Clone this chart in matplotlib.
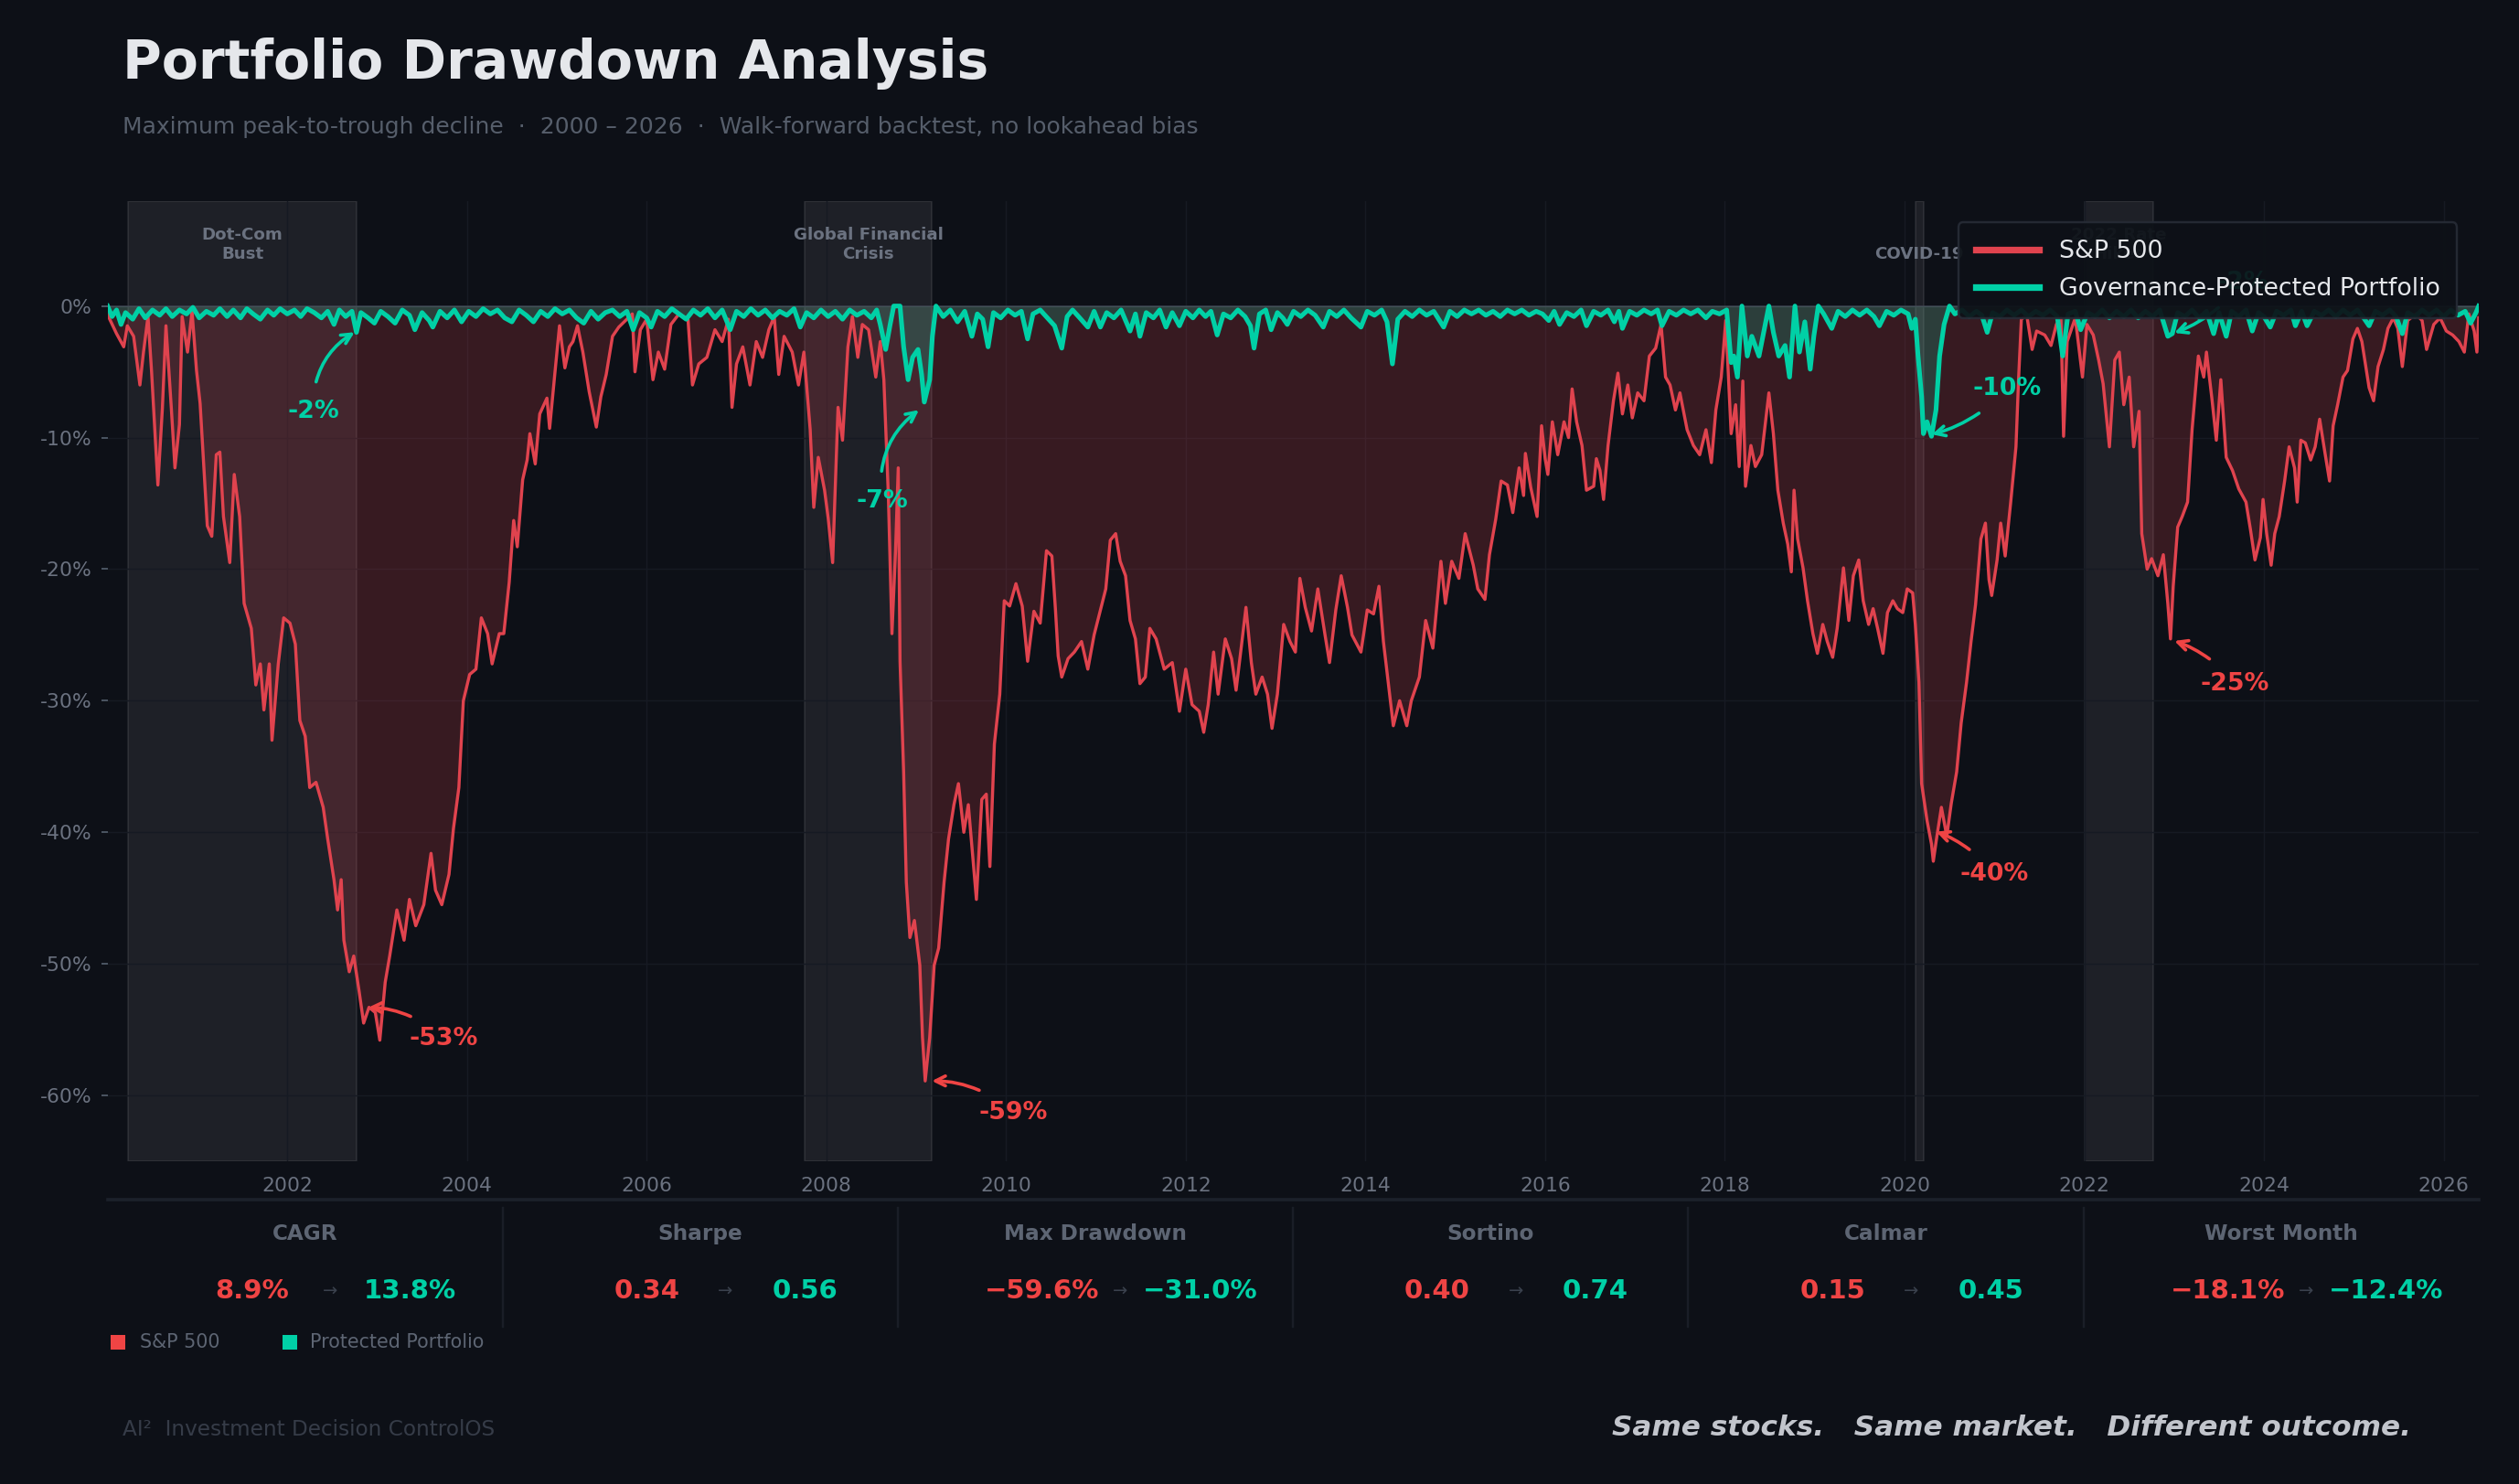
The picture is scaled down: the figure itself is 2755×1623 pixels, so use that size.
import matplotlib
matplotlib.use('Agg')
import matplotlib.pyplot as plt
from matplotlib.patches import Rectangle
from matplotlib.lines import Line2D

# ---- data ----
sp_years = [2000.00, 2000.01, 2000.10, 2000.18, 2000.22, 2000.29, 2000.36, 2000.40, 2000.45, 2000.49,
            2000.56, 2000.61, 2000.65, 2000.71, 2000.75, 2000.80, 2000.83, 2000.89, 2000.94, 2000.99,
            2001.03, 2001.07, 2001.11, 2001.16, 2001.21, 2001.25, 2001.29, 2001.36, 2001.41, 2001.47,
            2001.52, 2001.60, 2001.65, 2001.70, 2001.74, 2001.80, 2001.83, 2001.90, 2001.96, 2002.03,
            2002.09, 2002.14, 2002.20, 2002.25, 2002.32, 2002.40, 2002.45, 2002.52, 2002.56, 2002.60,
            2002.63, 2002.69, 2002.74, 2002.80, 2002.85, 2002.91, 2002.98, 2003.03, 2003.09, 2003.14,
            2003.22, 2003.30, 2003.36, 2003.43, 2003.52, 2003.60, 2003.65, 2003.72, 2003.80, 2003.85,
            2003.91, 2003.96, 2004.03, 2004.10, 2004.16, 2004.23, 2004.28, 2004.36, 2004.41, 2004.47,
            2004.52, 2004.56, 2004.62, 2004.67, 2004.70, 2004.76, 2004.81, 2004.89, 2004.92, 2004.98,
            2005.03, 2005.09, 2005.14, 2005.18, 2005.23, 2005.29, 2005.36, 2005.44, 2005.49, 2005.55,
            2005.62, 2005.69, 2005.78, 2005.84, 2005.87, 2005.93, 2006.00, 2006.07, 2006.13, 2006.20,
            2006.27, 2006.36, 2006.46, 2006.51, 2006.58, 2006.67, 2006.76, 2006.84, 2006.91, 2006.95,
            2007.00, 2007.07, 2007.15, 2007.22, 2007.29, 2007.36, 2007.42, 2007.47, 2007.53, 2007.62,
            2007.69, 2007.75, 2007.82, 2007.86, 2007.91, 2007.98, 2008.02, 2008.07, 2008.13, 2008.18,
            2008.24, 2008.29, 2008.35, 2008.40, 2008.47, 2008.55, 2008.60, 2008.64, 2008.69, 2008.73,
            2008.77, 2008.80, 2008.82, 2008.86, 2008.89, 2008.93, 2008.98, 2009.04, 2009.07, 2009.10,
            2009.15, 2009.20, 2009.25, 2009.31, 2009.36, 2009.42, 2009.47, 2009.53, 2009.58, 2009.67,
            2009.73, 2009.78, 2009.82, 2009.87, 2009.93, 2009.98, 2010.04, 2010.11, 2010.18, 2010.24,
            2010.31, 2010.38, 2010.45, 2010.51, 2010.55, 2010.58, 2010.62, 2010.69, 2010.76, 2010.84,
            2010.91, 2010.98, 2011.05, 2011.11, 2011.16, 2011.22, 2011.27, 2011.33, 2011.38, 2011.44,
            2011.49, 2011.55, 2011.60, 2011.67, 2011.76, 2011.85, 2011.93, 2012.00, 2012.07, 2012.15,
            2012.20, 2012.25, 2012.31, 2012.36, 2012.44, 2012.51, 2012.56, 2012.62, 2012.67, 2012.73,
            2012.78, 2012.85, 2012.91, 2012.96, 2013.02, 2013.09, 2013.16, 2013.22, 2013.27, 2013.33,
            2013.40, 2013.47, 2013.55, 2013.60, 2013.67, 2013.73, 2013.80, 2013.85, 2013.95, 2014.02,
            2014.09, 2014.15, 2014.20, 2014.26, 2014.31, 2014.38, 2014.46, 2014.51, 2014.60, 2014.67,
            2014.75, 2014.84, 2014.89, 2014.96, 2015.04, 2015.11, 2015.20, 2015.25, 2015.33, 2015.38,
            2015.45, 2015.51, 2015.58, 2015.64, 2015.71, 2015.76, 2015.78, 2015.84, 2015.91, 2015.96,
            2016.00, 2016.03, 2016.08, 2016.14, 2016.21, 2016.26, 2016.30, 2016.35, 2016.41, 2016.46,
            2016.54, 2016.57, 2016.61, 2016.65, 2016.70, 2016.76, 2016.81, 2016.86, 2016.92, 2016.97,
            2017.03, 2017.10, 2017.16, 2017.23, 2017.29, 2017.34, 2017.39, 2017.45, 2017.50, 2017.58,
            2017.65, 2017.72, 2017.79, 2017.85, 2017.90, 2017.96, 2018.01, 2018.07, 2018.12, 2018.16,
            2018.20, 2018.23, 2018.29, 2018.34, 2018.41, 2018.49, 2018.54, 2018.59, 2018.65, 2018.70,
            2018.74, 2018.77, 2018.81, 2018.87, 2018.92, 2018.98, 2019.03, 2019.09, 2019.14, 2019.20,
            2019.25, 2019.32, 2019.38, 2019.43, 2019.49, 2019.54, 2019.60, 2019.65, 2019.70, 2019.76,
            2019.81, 2019.87, 2019.92, 2019.98, 2020.03, 2020.09, 2020.12, 2020.16, 2020.19, 2020.25,
            2020.30, 2020.32, 2020.36, 2020.41, 2020.47, 2020.52, 2020.58, 2020.63, 2020.69, 2020.74,
            2020.79, 2020.85, 2020.90, 2020.94, 2020.97, 2021.03, 2021.07, 2021.12, 2021.18, 2021.24,
            2021.27, 2021.30, 2021.36, 2021.42, 2021.47, 2021.56, 2021.63, 2021.69, 2021.74, 2021.77,
            2021.81, 2021.90, 2021.98, 2022.03, 2022.10, 2022.16, 2022.21, 2022.28, 2022.34, 2022.39,
            2022.44, 2022.50, 2022.55, 2022.61, 2022.64, 2022.70, 2022.75, 2022.82, 2022.88, 2022.93,
            2022.96, 2022.99, 2023.04, 2023.09, 2023.15, 2023.20, 2023.27, 2023.33, 2023.36, 2023.42,
            2023.47, 2023.52, 2023.58, 2023.65, 2023.72, 2023.80, 2023.85, 2023.90, 2023.96, 2023.99,
            2024.03, 2024.08, 2024.12, 2024.17, 2024.23, 2024.28, 2024.34, 2024.37, 2024.41, 2024.46,
            2024.52, 2024.57, 2024.62, 2024.68, 2024.73, 2024.77, 2024.82, 2024.88, 2024.93, 2024.99,
            2025.04, 2025.09, 2025.17, 2025.22, 2025.27, 2025.33, 2025.38, 2025.44, 2025.49, 2025.54,
            2025.60, 2025.69, 2025.76, 2025.81, 2025.89, 2025.96, 2026.03, 2026.10, 2026.17, 2026.23,
            2026.28, 2026.34, 2026.37, 2026.39]
sp_dd = [0.0, -0.8, -2.1, -3.1, -1.5, -2.3, -6.0, -3.5, -0.8, -5.0,
         -13.6, -7.8, -1.5, -7.8, -12.3, -9.0, -0.8, -3.5, -0.4, -4.9,
         -7.4, -12.0, -16.7, -17.5, -11.3, -11.1, -16.0, -19.5, -12.8, -16.0,
         -22.6, -24.5, -28.8, -27.2, -30.7, -27.2, -33.0, -27.2, -23.7, -24.1,
         -25.7, -31.5, -32.7, -36.6, -36.2, -38.1, -40.5, -43.6, -45.9, -43.6,
         -48.2, -50.6, -49.4, -52.1, -54.5, -53.3, -53.7, -55.8, -51.4, -49.4,
         -45.9, -48.2, -45.1, -47.1, -45.5, -41.6, -44.4, -45.5, -43.2, -39.7,
         -36.6, -30.0, -28.0, -27.6, -23.7, -24.9, -27.2, -24.9, -24.9, -21.0,
         -16.3, -18.3, -13.2, -11.7, -9.7, -12.0, -8.2, -7.0, -9.3, -5.0,
         -1.5, -4.7, -3.1, -2.7, -1.5, -3.5, -6.5, -9.2, -6.9, -5.2,
         -2.3, -1.6, -1.0, -0.6, -5.0, -1.8, -1.0, -5.6, -3.5, -4.8,
         -1.4, -0.6, -1.0, -6.0, -4.4, -3.9, -1.8, -2.7, -1.0, -7.7,
         -4.4, -3.1, -6.0, -2.7, -3.9, -1.8, -0.8, -5.2, -2.3, -3.5,
         -6.0, -3.5, -9.4, -15.3, -11.5, -14.0, -16.1, -19.5, -7.7, -10.2,
         -3.1, -0.8, -3.9, -1.4, -1.8, -5.4, -2.7, -5.6, -14.4, -24.9,
         -18.6, -12.3, -27.0, -35.4, -43.8, -48.0, -46.7, -50.1, -55.6, -58.9,
         -55.6, -50.1, -48.8, -43.8, -40.5, -37.9, -36.3, -40.0, -37.9, -45.1,
         -37.5, -37.1, -42.6, -33.3, -29.5, -22.4, -22.8, -21.1, -22.8, -27.0,
         -23.2, -24.1, -18.6, -19.0, -23.1, -26.6, -28.2, -26.8, -26.3, -25.5,
         -27.6, -25.0, -23.1, -21.5, -17.8, -17.3, -19.4, -20.5, -23.9, -25.3,
         -28.7, -28.2, -24.5, -25.3, -27.6, -27.1, -30.8, -27.6, -30.3, -30.8,
         -32.4, -30.3, -26.3, -29.5, -25.3, -26.8, -29.2, -25.8, -22.9, -27.1,
         -29.5, -28.2, -29.5, -32.1, -29.5, -24.2, -25.5, -26.3, -20.7, -22.9,
         -24.7, -21.5, -25.0, -27.1, -23.1, -20.5, -22.9, -25.0, -26.3, -23.1,
         -23.4, -21.3, -25.5, -29.0, -31.9, -30.0, -31.9, -30.0, -28.2, -23.9,
         -26.0, -19.4, -22.6, -19.4, -20.7, -17.3, -19.7, -21.5, -22.3, -18.9,
         -16.2, -13.3, -13.6, -15.7, -12.3, -14.4, -11.2, -13.8, -16.0, -9.1,
         -11.6, -12.8, -8.8, -11.3, -8.8, -10.0, -6.3, -8.8, -10.6, -14.0,
         -13.7, -11.6, -12.5, -14.7, -10.6, -7.2, -5.1, -8.2, -6.0, -8.5,
         -6.6, -7.2, -3.8, -3.2, -1.4, -5.4, -6.0, -7.9, -6.6, -9.4,
         -10.6, -11.3, -9.4, -11.9, -7.9, -5.4, -1.1, -9.7, -7.5, -12.2,
         -5.7, -13.7, -10.6, -12.2, -11.3, -6.6, -9.7, -14.0, -16.5, -18.1,
         -20.2, -14.0, -17.7, -19.9, -22.4, -24.9, -26.4, -24.2, -25.5, -26.7,
         -24.5, -19.9, -23.9, -20.5, -19.3, -22.4, -24.2, -23.0, -24.5, -26.4,
         -23.3, -22.4, -23.0, -23.3, -21.5, -21.8, -24.2, -28.6, -36.3, -39.1,
         -40.9, -42.2, -40.3, -38.1, -40.3, -37.8, -35.4, -31.7, -28.6, -25.5,
         -22.7, -17.7, -16.5, -20.8, -22.0, -19.3, -16.5, -19.0, -15.0, -10.7,
         -5.4, -1.0, -0.7, -3.3, -1.9, -2.2, -3.0, -1.4, -0.9, -9.9,
         -2.7, -0.9, -5.4, -1.4, -2.2, -4.1, -5.9, -10.7, -4.1, -3.5,
         -7.5, -5.4, -10.7, -8.0, -17.3, -20.0, -19.2, -20.5, -18.9, -22.6,
         -25.3, -21.3, -16.8, -16.0, -14.9, -9.4, -3.8, -5.4, -3.5, -7.0,
         -10.2, -5.6, -11.5, -12.5, -13.9, -14.9, -17.0, -19.3, -17.6, -14.7,
         -17.3, -19.7, -17.3, -16.0, -13.3, -10.7, -12.3, -14.9, -10.2, -10.4,
         -11.7, -10.7, -8.6, -11.2, -13.3, -9.1, -7.5, -5.4, -4.9, -2.5,
         -1.7, -2.7, -6.2, -7.2, -4.6, -3.3, -1.7, -0.9, -1.7, -4.6,
         -1.1, -0.6, -1.1, -3.3, -1.4, -0.9, -1.9, -2.2, -2.7, -3.5,
         -0.6, -1.9, -3.5, -0.9]

pp_years = [2000.00, 2000.05, 2000.10, 2000.15, 2000.20, 2000.28, 2000.35, 2000.42, 2000.50, 2000.58,
            2000.65, 2000.72, 2000.80, 2000.88, 2000.95, 2001.02, 2001.10, 2001.18, 2001.25, 2001.33,
            2001.40, 2001.48, 2001.55, 2001.62, 2001.70, 2001.78, 2001.85, 2001.92, 2002.00, 2002.08,
            2002.15, 2002.22, 2002.30, 2002.38, 2002.45, 2002.52, 2002.58, 2002.65, 2002.72, 2002.77,
            2002.82, 2002.90, 2002.97, 2003.04, 2003.12, 2003.20, 2003.28, 2003.36, 2003.42, 2003.50,
            2003.58, 2003.62, 2003.70, 2003.78, 2003.86, 2003.94, 2004.02, 2004.10, 2004.18, 2004.26,
            2004.34, 2004.42, 2004.50, 2004.58, 2004.66, 2004.74, 2004.82, 2004.90, 2004.98, 2005.06,
            2005.14, 2005.22, 2005.30, 2005.38, 2005.46, 2005.54, 2005.62, 2005.70, 2005.78, 2005.85,
            2005.92, 2006.00, 2006.05, 2006.12, 2006.20, 2006.28, 2006.36, 2006.44, 2006.52, 2006.60,
            2006.68, 2006.76, 2006.84, 2006.93, 2007.00, 2007.08, 2007.16, 2007.24, 2007.32, 2007.40,
            2007.48, 2007.56, 2007.64, 2007.71, 2007.78, 2007.86, 2007.94, 2008.02, 2008.10, 2008.18,
            2008.26, 2008.34, 2008.42, 2008.50, 2008.56, 2008.60, 2008.66, 2008.71, 2008.75, 2008.82,
            2008.86, 2008.91, 2008.96, 2009.02, 2009.06, 2009.09, 2009.15, 2009.18, 2009.22, 2009.30,
            2009.38, 2009.46, 2009.54, 2009.62, 2009.68, 2009.74, 2009.80, 2009.86, 2009.94, 2010.02,
            2010.10, 2010.17, 2010.24, 2010.30, 2010.38, 2010.46, 2010.54, 2010.62, 2010.68, 2010.74,
            2010.82, 2010.91, 2010.98, 2011.05, 2011.12, 2011.20, 2011.28, 2011.38, 2011.44, 2011.49,
            2011.56, 2011.64, 2011.71, 2011.78, 2011.85, 2011.93, 2012.00, 2012.08, 2012.15, 2012.22,
            2012.28, 2012.35, 2012.42, 2012.50, 2012.58, 2012.66, 2012.72, 2012.76, 2012.82, 2012.89,
            2012.95, 2013.02, 2013.08, 2013.13, 2013.20, 2013.28, 2013.36, 2013.44, 2013.53, 2013.60,
            2013.68, 2013.76, 2013.84, 2013.95, 2014.02, 2014.10, 2014.18, 2014.24, 2014.30, 2014.36,
            2014.44, 2014.52, 2014.60, 2014.68, 2014.76, 2014.87, 2014.94, 2015.02, 2015.10, 2015.18,
            2015.26, 2015.34, 2015.42, 2015.50, 2015.58, 2015.66, 2015.74, 2015.82, 2015.90, 2015.97,
            2016.04, 2016.10, 2016.16, 2016.24, 2016.32, 2016.40, 2016.46, 2016.54, 2016.62, 2016.70,
            2016.77, 2016.82, 2016.86, 2016.94, 2017.02, 2017.10, 2017.18, 2017.25, 2017.30, 2017.38,
            2017.46, 2017.54, 2017.62, 2017.70, 2017.79, 2017.86, 2017.94, 2018.02, 2018.07, 2018.10,
            2018.14, 2018.19, 2018.25, 2018.30, 2018.38, 2018.45, 2018.49, 2018.54, 2018.60, 2018.67,
            2018.72, 2018.78, 2018.83, 2018.89, 2018.95, 2018.99, 2019.04, 2019.10, 2019.19, 2019.26,
            2019.34, 2019.42, 2019.50, 2019.58, 2019.66, 2019.72, 2019.80, 2019.88, 2019.96, 2020.04,
            2020.08, 2020.12, 2020.15, 2020.19, 2020.21, 2020.25, 2020.30, 2020.35, 2020.39, 2020.44,
            2020.50, 2020.56, 2020.64, 2020.72, 2020.80, 2020.86, 2020.92, 2020.98, 2021.06, 2021.14,
            2021.22, 2021.30, 2021.38, 2021.46, 2021.54, 2021.62, 2021.70, 2021.76, 2021.82, 2021.90,
            2021.96, 2022.04, 2022.12, 2022.20, 2022.28, 2022.36, 2022.44, 2022.52, 2022.60, 2022.68,
            2022.76, 2022.84, 2022.93, 2022.98, 2023.04, 2023.12, 2023.20, 2023.28, 2023.36, 2023.44,
            2023.50, 2023.58, 2023.64, 2023.72, 2023.80, 2023.87, 2023.94, 2024.00, 2024.07, 2024.14,
            2024.22, 2024.30, 2024.35, 2024.42, 2024.48, 2024.56, 2024.64, 2024.72, 2024.80, 2024.88,
            2024.96, 2025.04, 2025.10, 2025.17, 2025.24, 2025.32, 2025.40, 2025.47, 2025.54, 2025.60,
            2025.68, 2025.76, 2025.84, 2025.92, 2026.00, 2026.08, 2026.16, 2026.24, 2026.30, 2026.36,
            2026.39]
pp_dd = [0.0, -0.8, -0.3, -1.4, -0.5, -1.0, -0.2, -0.9, -0.3, -0.7,
         -0.2, -0.8, -0.3, -0.6, -0.1, -0.9, -0.4, -0.7, -0.2, -0.8,
         -0.3, -0.9, -0.2, -0.6, -1.0, -0.3, -0.7, -0.2, -0.6, -0.3,
         -0.8, -0.2, -0.5, -0.9, -0.4, -1.4, -0.3, -0.8, -0.4, -2.0,
         -0.5, -0.9, -1.3, -0.4, -0.8, -1.3, -0.3, -0.7, -1.8, -0.5,
         -1.1, -1.6, -0.4, -0.9, -0.3, -1.2, -0.4, -0.8, -0.2, -0.6,
         -0.3, -0.9, -1.2, -0.3, -0.7, -1.2, -0.4, -0.8, -0.2, -0.6,
         -0.3, -0.9, -1.3, -0.4, -1.0, -0.5, -0.3, -0.8, -0.4, -1.8,
         -0.5, -0.9, -1.6, -0.4, -0.8, -0.2, -0.6, -1.0, -0.3, -0.7,
         -0.2, -0.9, -0.3, -1.8, -0.4, -0.8, -0.2, -0.7, -0.3, -0.9,
         -0.4, -0.7, -0.2, -1.6, -0.5, -0.9, -0.3, -0.8, -0.4, -1.0,
         -0.3, -0.7, -0.4, -0.9, -0.3, -1.4, -3.3, -1.4, 0.0, 0.0,
         -3.1, -5.6, -3.9, -3.3, -5.2, -7.3, -5.6, -2.3, 0.0, -0.8,
         -0.3, -1.2, -0.4, -2.3, -0.6, -1.0, -3.1, -0.5, -0.9, -0.3,
         -0.7, -0.4, -2.5, -0.6, -0.3, -0.9, -1.5, -3.2, -0.8, -0.3,
         -0.9, -1.6, -0.4, -1.6, -0.5, -0.9, -0.3, -1.9, -0.6, -2.3,
         -0.5, -0.9, -0.3, -1.6, -0.5, -1.5, -0.4, -0.9, -0.3, -0.8,
         -0.4, -2.2, -0.6, -0.9, -0.3, -0.8, -1.5, -3.2, -0.6, -0.3,
         -1.8, -0.5, -0.9, -1.4, -0.4, -0.8, -0.3, -0.7, -1.6, -0.4,
         -0.8, -0.3, -0.9, -1.6, -0.4, -0.7, -0.3, -1.2, -4.4, -1.0,
         -0.4, -0.8, -0.3, -0.7, -0.4, -1.6, -0.4, -0.8, -0.3, -0.6,
         -0.3, -0.7, -0.4, -0.8, -0.3, -0.6, -0.3, -0.7, -0.4, -0.6,
         -1.1, -0.4, -1.4, -0.5, -0.8, -0.3, -1.5, -0.4, -0.7, -0.3,
         -1.2, -0.4, -1.7, -0.4, -0.7, -0.3, -0.6, -0.3, -1.5, -0.4,
         -0.7, -0.3, -0.6, -0.3, -0.9, -0.4, -0.6, -0.3, -4.3, -3.8,
         -5.4, 0.0, -3.8, -2.3, -3.8, -1.4, 0.0, -2.0, -3.8, -3.0,
         -5.4, 0.0, -3.5, -1.2, -4.8, -2.3, 0.0, -0.6, -1.7, -0.4,
         -0.8, -0.3, -0.7, -0.3, -0.8, -1.5, -0.4, -0.7, -0.3, -0.6,
         -1.7, -1.0, -3.8, -6.9, -9.7, -8.8, -9.9, -7.9, -3.8, -1.4,
         0.0, -0.6, -0.3, -0.8, -0.4, -0.7, -2.0, -0.5, -0.8, -0.3,
         -0.7, -0.3, -0.8, -0.4, -0.7, -0.3, -0.8, -3.8, -0.6, -0.4,
         -1.8, -0.5, -0.8, -0.3, -0.9, -0.4, -0.8, -0.3, -0.9, -0.4,
         -0.8, -0.3, -2.3, -2.1, -0.5, -0.8, -0.3, -0.9, -0.4, -2.1,
         -0.5, -2.3, -0.4, -0.8, -0.3, -1.9, -0.5, -0.8, -1.6, -0.4,
         -0.7, -0.3, -1.5, -0.4, -1.5, -0.4, -0.7, -0.3, -0.8, -0.3,
         -0.7, -0.3, -0.8, -1.5, -0.4, -0.7, -0.3, -0.8, -2.1, -0.5,
         -0.8, -0.3, -0.7, -0.3, -0.8, -0.3, -0.7, -0.4, -1.3, -0.5,
         0.0]

events = [('Dot-Com\nBust', 2000.23, 2002.77),
          ('Global Financial\nCrisis', 2007.76, 2009.17),
          ('COVID-19', 2020.12, 2020.21),
          ('2022 Rate\nHikes', 2022.0, 2022.77)]

# label, point x, point y, text x, text y, series, curve
callouts = [('-2%', 2002.77, -1.9, 2002.29, -8.0, 'pp', -0.3),
            ('-53%', 2002.88, -53.3, 2003.74, -55.7, 'sp', 0.2),
            ('-7%', 2009.05, -7.8, 2008.62, -14.8, 'pp', -0.3),
            ('-59%', 2009.15, -58.9, 2010.08, -61.3, 'sp', 0.2),
            ('-10%', 2020.28, -9.8, 2021.14, -6.3, 'pp', -0.15),
            ('-40%', 2020.33, -39.9, 2021.0, -43.2, 'sp', 0.15),
            ('-25%', 2022.98, -25.4, 2023.68, -28.7, 'sp', 0.15),
            ('-2%', 2022.98, -2.1, 2023.76, 1.8, 'pp', -0.15)]

metric_names = ['CAGR', 'Sharpe', 'Max Drawdown', 'Sortino', 'Calmar', 'Worst Month']
sp_metrics = ['8.9%', '0.34', '\u221259.6%', '0.40', '0.15', '\u221218.1%']
pp_metrics = ['13.8%', '0.56', '\u221231.0%', '0.74', '0.45', '\u221212.4%']

year_ticks = list(range(2002, 2027, 2))
pct_ticks = [0, -10, -20, -30, -40, -50, -60]

# ---- colours ----
BG = '#0d1017'
RED = '#e0434e'
RED_TXT = '#ef4444'
GREEN = '#00d0a6'
GRID = '#161a23'
MUTED = '#6b7280'

fig = plt.figure(figsize=(2755 / 175, 1623 / 175), dpi=175, facecolor=BG)
ax = fig.add_axes([0.0427, 0.2175, 0.9413, 0.6472], facecolor=BG)

for label, x0, x1 in events:
    ax.axvspan(x0, x1, facecolor=(1, 1, 1, 0.07), edgecolor=(1, 1, 1, 0.08), lw=0.8, zorder=0)
    ax.text((x0 + x1) / 2, 3.3, label, ha='center', va='bottom', fontsize=7.5,
            fontweight='bold', color=MUTED, linespacing=1.25, zorder=1)

ax.axhline(0, color='#4b5060', lw=0.8, alpha=0.6, zorder=1)

ax.fill_between(sp_years, sp_dd, 0, color=RED, alpha=0.2, lw=0, zorder=2)
ax.fill_between(pp_years, pp_dd, 0, color=GREEN, alpha=0.2, lw=0, zorder=3)
ax.plot(sp_years, sp_dd, color=RED, lw=1.4, zorder=4, label='S&P 500')
ax.plot(pp_years, pp_dd, color=GREEN, lw=2.1, zorder=5, label='Governance-Protected Portfolio')

for label, px, py, tx, ty, who, rad in callouts:
    c = GREEN if who == 'pp' else RED_TXT
    ax.annotate(label, xy=(px, py), xytext=(tx, ty), ha='center', va='center',
                fontsize=11, fontweight='bold', color=c, zorder=6,
                arrowprops=dict(arrowstyle='->', color=c, lw=1.5,
                                connectionstyle=f'arc3,rad={rad}', shrinkA=6, shrinkB=1))

ax.set_xlim(sp_years[0], sp_years[-1])
ax.set_ylim(-65, 8)
ax.set_xticks(year_ticks)
ax.set_yticks(pct_ticks)
ax.set_yticklabels([f'{v}%' for v in pct_ticks])
ax.tick_params(axis='x', length=0, pad=7, labelsize=9, labelcolor=MUTED)
ax.tick_params(axis='y', length=3, width=0.8, color='#4b5563', pad=4, labelsize=9, labelcolor=MUTED)
ax.grid(True, color=GRID, lw=0.6)
ax.set_axisbelow(True)
for s in ax.spines.values():
    s.set_visible(False)

leg = ax.legend(loc='upper right', bbox_to_anchor=(0.996, 0.99), fontsize=11,
                facecolor='#0d1117', edgecolor='#262b36', framealpha=0.93,
                handlelength=2.6, borderpad=0.7, labelspacing=0.55, fancybox=True)
leg.set_zorder(10)
for t in leg.get_texts():
    t.set_color('#e5e7eb')
for h in leg.get_lines():
    h.set_linewidth(3)

# ---- header ----
fig.text(0.0485, 0.957, 'Portfolio Drawdown Analysis', fontsize=24, fontweight='bold',
         color='#e5e7eb', va='center')
fig.text(0.0485, 0.9145, 'Maximum peak-to-trough decline  \u00b7  2000 \u2013 2026  \u00b7  '
         'Walk-forward backtest, no lookahead bias', fontsize=10.3, color='#565e6b', va='center')

# ---- stats panel ----
left, width = 0.0427, 0.9413
colw = width / 6
fig.add_artist(Line2D([left, left + width], [0.1916, 0.1916], color='#1c212b', lw=1.5))
for i, name in enumerate(metric_names):
    cx = left + colw * (i + 0.5)
    if i > 0:
        fig.add_artist(Line2D([left + colw * i] * 2, [0.106, 0.186], color='#1a1e27', lw=1))
    fig.text(cx, 0.1688, name, ha='center', va='center', fontsize=9.5,
             fontweight='bold', color='#5d6573')
    fig.text(cx - 0.135 * colw, 0.1299, sp_metrics[i], ha='center', va='center',
             fontsize=12, fontweight='bold', color=RED_TXT)
    fig.text(cx + 0.063 * colw, 0.1299, '\u2192', ha='center', va='center',
             fontsize=8, color='#3a414d')
    fig.text(cx + 0.265 * colw, 0.1299, pp_metrics[i], ha='center', va='center',
             fontsize=12, fontweight='bold', color=GREEN)

fig.add_artist(Rectangle((0.0441, 0.0905), 0.0058, 0.0098, transform=fig.transFigure,
                         color=RED_TXT, lw=0))
fig.text(0.0555, 0.0952, 'S&P 500', fontsize=8.5, color='#5d6573', va='center')
fig.add_artist(Rectangle((0.1120, 0.0905), 0.0058, 0.0098, transform=fig.transFigure,
                         color=GREEN, lw=0))
fig.text(0.1231, 0.0952, 'Protected Portfolio', fontsize=8.5, color='#5d6573', va='center')

# ---- footer ----
fig.text(0.0485, 0.0368, 'AI\u00b2  Investment Decision ControlOS', fontsize=9.5,
         color='#363c48', va='center')
fig.text(0.957, 0.038, 'Same stocks.   Same market.   Different outcome.', fontsize=12.8,
         fontweight='bold', fontstyle='italic', color='#c2c5cc', ha='right', va='center')

fig.savefig('out.png', dpi=175, facecolor=BG)
